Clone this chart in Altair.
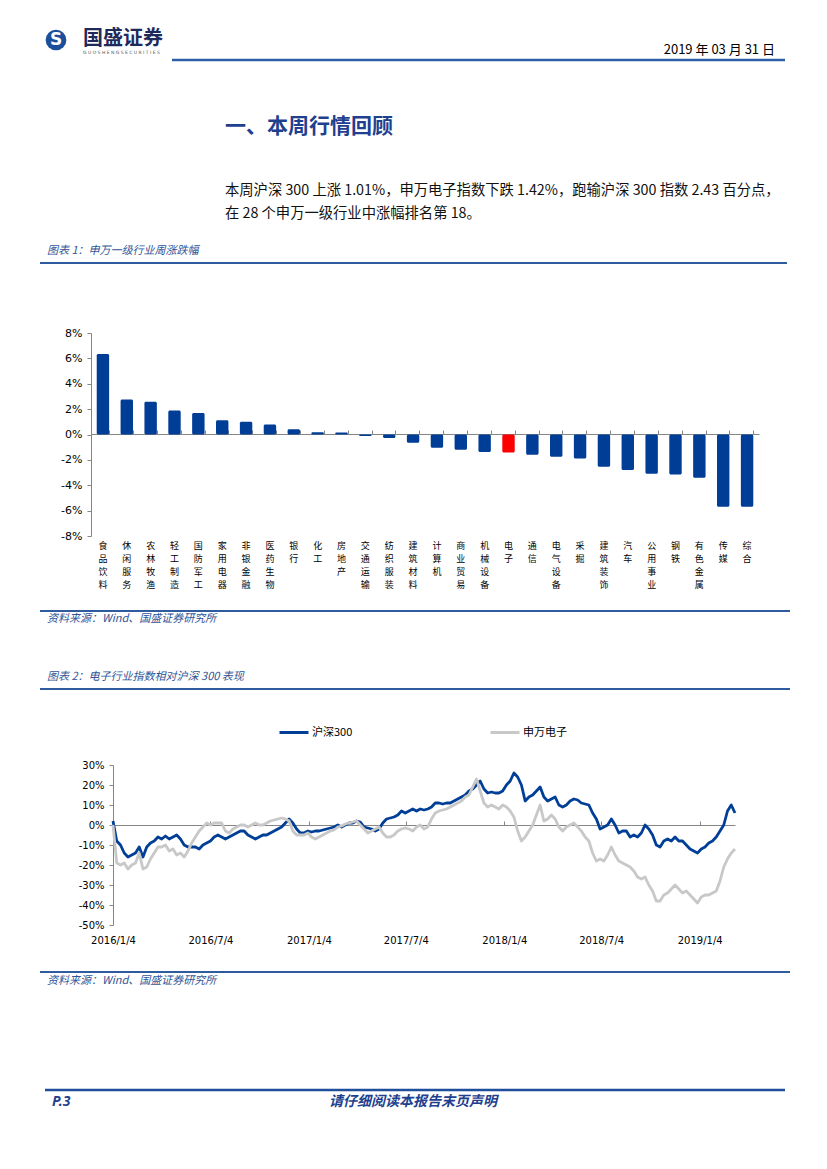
import altair as alt
import pandas as pd

CJK = "Noto Sans CJK SC"
LAT = "DejaVu Sans"

# ---------------- data ----------------
industries = ["食品饮料", "休闲服务", "农林牧渔", "轻工制造", "国防军工", "家用电器", "非银金融",
              "医药生物", "银行", "化工", "房地产", "交通运输", "纺织服装", "建筑材料", "计算机",
              "商业贸易", "机械设备", "电子", "通信", "电气设备", "采掘", "建筑装饰", "汽车",
              "公用事业", "钢铁", "有色金属", "传媒", "综合"]
weekly_change = [6.35, 2.75, 2.58, 1.9, 1.7, 1.12, 1.0, 0.78, 0.42, 0.17, 0.16, -0.12, -0.28,
                 -0.65, -1.05, -1.2, -1.38, -1.42, -1.6, -1.75, -1.9, -2.55, -2.8, -3.1, -3.15,
                 -3.4, -5.7, -5.7]
highlight_industry = "电子"
bar_ticks = [-8, -6, -4, -2, 0, 2, 4, 6, 8]

series_names = ["沪深300", "申万电子"]
first_date = "2016-01-04"   # weekly samples from here
hs300_rel = [
    2, -8, -10, -14, -16, -15, -14, -11, -16, -11,
    -9, -8, -6, -7, -5.5, -7, -6, -5, -7, -10,
    -11, -11, -11, -12, -10, -9, -8, -6, -5, -6,
    -7, -6, -5, -4, -3, -3, -5, -6, -7, -6,
    -5, -5, -4, -3, -2, -1, 1, 3, 1, -2,
    -4, -4, -3,
    -3.5, -3, -3, -2.5, -2, -1.5, -1,
    0, -1, 0, 1, 1, 2, 1.5, -1, -1.5, -2,
    -3, -2, 1, 3, 3.5, 4, 5, 7, 6, 7,
    8, 7, 8, 7.5, 8, 9, 11, 11, 10.5, 11,
    11, 12, 13, 14, 15, 17, 18, 20, 22, 18,
    16, 16.5, 16, 16, 17, 20, 22, 26, 24, 20,
    12, 14, 15, 17,
    19, 14, 12, 13, 14, 10,
    9, 10, 12, 13, 12.5, 11, 10.5, 10, 6, 3,
    -2, -1, 0, 3, 0, -4, -3, -3, -6, -5,
    -6, -4, 0, -2, -5, -10, -11, -8, -7, -8,
    -6, -8, -8, -10, -12, -13, -14, -12, -11, -9,
    -8, -6, -3, 0, 7, 10, 6,
]
sw_elec_rel = [
    0, -19, -20, -19, -22, -20, -19, -14, -22, -21,
    -17, -14, -11, -11, -10, -13, -12, -15, -14, -16,
    -13, -9, -6, -3, -1, 1, 0, 1, 1, 1,
    -3, -4, -2, -1, 0, 0, -1, 0, 1, 0,
    0, 1, 2, 2.5, 3, 3.5, 3, 2, -3, -5,
    -5, -5, -4,
    -6, -7, -6, -5, -4, -3, -2.5,
    -1, -0.5, 0.5, 1, 1.5, 2, 0, -2, -4, -3,
    -2, -1, -4, -6, -6, -5, -3, -2, -1.5, -2,
    -3, -1, 0, -2, -1, 3, 6, 7, 7.5, 8,
    9, 10, 11, 12, 14, 15, 19, 23, 17, 11,
    9, 10, 9, 8, 10, 9, 7, 4, -3, -8,
    -6, -3, 0, 5,
    10, 2, 3, 5, 3, -1,
    -3, -1, 0, 1, -1, -3, -6, -8, -14, -18,
    -17, -18, -15, -11, -15, -18, -19, -20, -21, -23,
    -26, -27, -26, -30, -33, -38, -38, -35, -34, -32,
    -30, -32, -34, -33, -35, -37, -39, -36, -35, -35,
    -34, -33, -28, -21, -17, -14, -12,
]
line_y_ticks = [-50, -40, -30, -20, -10, 0, 10, 20, 30]
line_x_ticks = ["2016-01-04", "2016-07-04", "2017-01-04", "2017-07-04",
                "2018-01-04", "2018-07-04", "2019-01-04"]
line_x_end = "2019-03-11"

header_date = "2019 年 03 月 31 日"
company = "国盛证券"
company_en = "G U O S H E N G   S E C U R I T I E S"
section_title = "一、本周行情回顾"
para_1 = "本周沪深 300 上涨 1.01%，申万电子指数下跌 1.42%，跑输沪深 300 指数 2.43 百分点，"
para_2 = "在 28 个申万一级行业中涨幅排名第 18。"
caption_1 = "图表 1：申万一级行业周涨跌幅"
caption_2 = "图表 2：电子行业指数相对沪深 300 表现"
source_text = "资料来源：Wind、国盛证券研究所"
page_no = "P.3"
footer_text = "请仔细阅读本报告末页声明"

# ---------------- tables ----------------
bar_df = pd.DataFrame({"industry": industries, "change": weekly_change})
dates = list(pd.date_range(first_date, periods=len(hs300_rel), freq="7D").strftime("%Y-%m-%d"))
line_df = pd.DataFrame({
    "date": dates + dates,
    "value": hs300_rel + sw_elec_rel,
    "series": [series_names[0]] * len(dates) + [series_names[1]] * len(dates),
})
dummy = pd.DataFrame({"k": [0]})

W, H = 811, 1153  # drawing area (page minus 8px margin)


def dt(s):
    y, m, d = (int(v) for v in s.split("-"))
    return alt.DateTime(year=y, month=m, date=d, utc=True)


def text(txt, x, y, size, color="#000000", weight="normal", style="normal",
         align="left", font=CJK):
    return alt.Chart(dummy).mark_text(
        text=txt, align=align, baseline="middle", fontSize=size, font=font,
        fontWeight=weight, fontStyle=style, color=color
    ).encode(x=alt.value(x - 8), y=alt.value(y - 8))


def hline(x1, x2, y, color="#2e5c9e", w=2.0):
    return alt.Chart(dummy).mark_rule(color=color, strokeWidth=w).encode(
        x=alt.value(x1 - 8), x2=alt.value(x2 - 8), y=alt.value(y - 8))


BLUE_TXT = "#2f5597"
decor = [
    alt.Chart(dummy).mark_circle(size=430, color="#1b4f9c", opacity=1).encode(
        x=alt.value(56 - 8), y=alt.value(40 - 8)),
    text("S", 56, 40, 17, color="#ffffff", weight="bold", align="center", font=LAT),
    text(company, 83, 39, 20, color="#1e2a5a", weight="bold"),
    text(company_en, 83, 53, 4.5, color="#555555", font=LAT),
    hline(172, 785, 60, color="#2f5ea8", w=2.5),
    text(header_date, 775, 50, 13, align="right"),
    text(section_title, 225, 127, 21, color="#1f3f8f", weight="bold"),
    text(para_1, 225, 191, 14.3, color="#111111"),
    text(para_2, 225, 214, 14.3, color="#111111"),
    text(caption_1, 47, 251, 11, color=BLUE_TXT, style="italic"),
    hline(40, 787, 263),
    hline(40, 790, 611),
    text(source_text, 47, 619, 11, color=BLUE_TXT, style="italic"),
    text(caption_2, 47, 677, 11, color=BLUE_TXT, style="italic"),
    hline(40, 790, 689),
    hline(40, 790, 972),
    text(source_text, 47, 981, 11, color=BLUE_TXT, style="italic"),
    hline(45, 785, 1090, color="#1f4e9a", w=2.5),
    text(page_no, 52, 1102, 14, color="#1f3f8f", weight="bold", style="italic", font="Noto Sans"),
    text(footer_text, 413, 1102, 14, color="#1f3f8f", weight="bold", style="italic", align="center"),
]

AX = "#868686"

# ---------------- bar chart ----------------
bar_x = alt.Scale(domain=industries, range=[83, 751], paddingInner=0.48, paddingOuter=0.24)
bar_y = alt.Scale(domain=[-8, 8], range=[528, 325], nice=False, zero=False)

bars = alt.Chart(bar_df).mark_bar(cornerRadius=1.5).encode(
    x=alt.X("industry:N", sort=None, scale=bar_x,
            axis=alt.Axis(orient="bottom", offset=528 - H, domain=False, ticks=False,
                          labelAngle=0, labelExpr="split(datum.label, '')", labelFont=CJK,
                          labelFontSize=9, labelLineHeight=13.2, labelBaseline="top",
                          labelPadding=5, labelColor="#000000", labelOverlap=False,
                          title=None, grid=False)),
    y=alt.Y("change:Q", scale=bar_y,
            axis=alt.Axis(orient="left", offset=-83, values=bar_ticks,
                          labelExpr="datum.value + '%'", labelFont=LAT, labelFontSize=11,
                          labelColor="#000000", labelPadding=5, tickSize=4, tickColor=AX,
                          domainColor=AX, grid=False, title=None)),
    y2=alt.datum(0),
    color=alt.condition(alt.datum.industry == highlight_industry,
                        alt.value("#ff0000"), alt.value("#003d96")),
)
# invisible layer that only carries the zero-level category axis
bar_zero = alt.Chart(bar_df).mark_rule(opacity=0).encode(
    x=alt.X("industry:N", sort=None, scale=bar_x,
            axis=alt.Axis(orient="top", offset=-426, labels=False, tickBand="extent",
                          tickSize=4, tickColor=AX, domainColor=AX, title=None, grid=False)),
)
bar_group = alt.layer(bars, bar_zero)

# ---------------- line chart ----------------
line_x = alt.Scale(type="utc", domain=[dt(first_date), dt(line_x_end)], range=[105, 727], nice=False)
line_y = alt.Scale(domain=[-50, 30], range=[917, 757], nice=False, zero=False)
x_tick_values = [dt(s) for s in line_x_ticks]
color_scale = alt.Scale(domain=series_names, range=["#013f97", "#c8c8c8"])
legend = alt.Legend(orient="none", legendX=270, legendY=708.5, direction="horizontal",
                    title=None, symbolType="stroke", symbolStrokeWidth=3, symbolSize=841,
                    labelFont=CJK, labelFontSize=11, labelColor="#000000", labelOffset=2,
                    columnPadding=131, padding=0)

lines = alt.Chart(line_df).mark_line(strokeWidth=2.8, strokeJoin="round").encode(
    x=alt.X("date:T", scale=line_x,
            axis=alt.Axis(orient="bottom", offset=917 - H, domain=False, ticks=False,
                          values=x_tick_values,
                          labelExpr="utcFormat(datum.value, '%Y/%-m/%-d')",
                          labelFont=LAT, labelFontSize=10, labelColor="#000000",
                          labelPadding=10, labelFlush=False, labelOverlap=False,
                          title=None, grid=False)),
    y=alt.Y("value:Q", scale=line_y,
            axis=alt.Axis(orient="left", offset=-105, values=line_y_ticks,
                          labelExpr="datum.value + '%'", labelFont=LAT, labelFontSize=10,
                          labelColor="#000000", labelPadding=5, tickSize=4, tickColor=AX,
                          domainColor=AX, grid=False, title=None)),
    color=alt.Color("series:N", scale=color_scale, legend=legend),
)
# invisible layer that only carries the zero-level date axis
line_zero = alt.Chart(pd.DataFrame({"date": line_x_ticks})).mark_rule(opacity=0).encode(
    x=alt.X("date:T", scale=line_x,
            axis=alt.Axis(orient="top", offset=-817, labels=False, values=x_tick_values,
                          tickSize=4, tickColor=AX, domainColor=AX, title=None, grid=False)),
)
line_group = alt.layer(lines, line_zero)

chart = alt.layer(*decor, bar_group, line_group).resolve_scale(
    x="independent", y="independent"
).properties(width=W, height=H, padding=0).configure_view(strokeWidth=0)

chart.save("out.html", embed_options={"renderer": "svg", "actions": False})
